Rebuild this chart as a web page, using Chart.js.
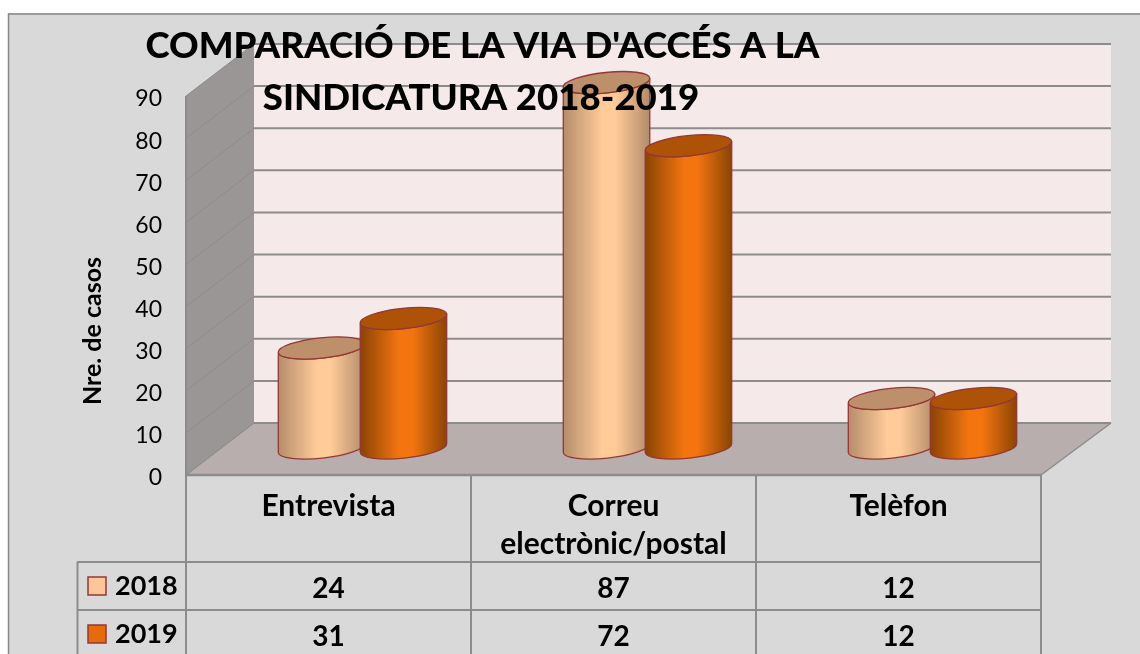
<!DOCTYPE html>
<html><head><meta charset="utf-8">
<style>html,body{margin:0;padding:0;background:#fff}#w{position:relative;width:1140px;height:654px}</style>
<script src="https://cdn.jsdelivr.net/npm/chart.js@4/dist/chart.umd.js"></script>
</head><body><div id="w"><canvas id="c" width="1140" height="654"></canvas></div>
<script>
const categories = ["Entrevista", ["Correu", "electrònic/postal"], "Telèfon"];
const seriesNames = ["2018", "2019"];
const values2018 = [24, 87, 12];
const values2019 = [31, 72, 12];
const titleLines = ["COMPARACIÓ DE LA VIA D'ACCÉS A LA", "SINDICATURA 2018-2019"];
const yAxisTitle = "Nre. de casos";
const FONT = "Lato, Carlito, sans-serif";
const DX = 34, DY = -26, WX = 68, WY = -52;
const LINE = "#8c8c8c", EDGE = "#953735";

const styles = [
  {top:"#bd8f6b", stops:["#b58d6c","#ffcb98","#ffcb98","#b38b6b"], key:"#fcc699"},
  {top:"#ad5207", stops:["#8a4304","#f47510","#f47510","#8a4505"], key:"#e46c0a"}
];

class CylinderElement extends Chart.BarElement {
  draw(ctx) {
    const {x, y, base, width} = this.getProps(["x","y","base","width"]);
    const st = styles[this.$ds];
    const rx = width / 2 + 2.5, ry = 10.2, rot = -6 * Math.PI / 180;
    const ex = rx * Math.cos(rot), ey = rx * Math.sin(rot);
    const g = ctx.createLinearGradient(x - ex, 0, x + ex, 0);
    [0, .45, .6, 1].forEach((p, i) => g.addColorStop(p, st.stops[i]));
    ctx.save();
    ctx.lineWidth = 1.3; ctx.strokeStyle = EDGE; ctx.fillStyle = g;
    ctx.beginPath();
    ctx.moveTo(x - ex, y - ey);
    ctx.lineTo(x - ex, base - 1 - ey);
    ctx.ellipse(x, base - 1, rx, ry, rot, Math.PI, 0, true);
    ctx.lineTo(x + ex, y + ey);
    ctx.ellipse(x, y, rx, ry, rot, 0, Math.PI, false);
    ctx.closePath(); ctx.fill(); ctx.stroke();
    ctx.beginPath();
    ctx.ellipse(x, y, rx, ry, rot, 0, Math.PI * 2);
    ctx.fillStyle = st.top; ctx.fill(); ctx.stroke();
    ctx.restore();
  }
}
CylinderElement.id = "cylinderEl";
class CylinderController extends Chart.BarController {
  updateElements(rects, start, count, mode) {
    super.updateElements(rects, start, count, mode);
    for (let i = start; i < start + count; i++) rects[i].$ds = this.index;
  }
}
CylinderController.id = "cylinder";
CylinderController.defaults = Object.assign({}, Chart.BarController.defaults, {dataElementType: "cylinderEl"});
CylinderController.overrides = Chart.BarController.overrides;
Chart.register(CylinderElement, CylinderController);

function line(ctx, x1, y1, x2, y2, w) {
  ctx.lineWidth = w; ctx.beginPath(); ctx.moveTo(x1, y1); ctx.lineTo(x2, y2); ctx.stroke();
}
function poly(ctx, pts, fill) {
  ctx.fillStyle = fill; ctx.beginPath();
  pts.forEach((p, i) => i ? ctx.lineTo(p[0], p[1]) : ctx.moveTo(p[0], p[1]));
  ctx.closePath(); ctx.fill();
}

const scene = {
  id: "scene",
  beforeDraw(chart) {
    const ctx = chart.ctx, {left:L, right:R, top:T, bottom:B} = chart.chartArea, sy = chart.scales.y;
    ctx.save();
    ctx.fillStyle = "#fff"; ctx.fillRect(0, 0, 1140, 654);
    ctx.fillStyle = "#d9d9d9"; ctx.fillRect(8, 13, 1132, 641);
    ctx.strokeStyle = "#868686"; ctx.lineWidth = 1.5;
    ctx.beginPath(); ctx.moveTo(8.5, 654); ctx.lineTo(8.5, 14); ctx.lineTo(1140, 14); ctx.stroke();
    poly(ctx, [[L+WX,T+WY],[R+WX+2,T+WY],[R+WX+2,B+WY],[L+WX,B+WY]], "#f5e9e9");
    poly(ctx, [[L,T],[L+WX,T+WY],[L+WX,B+WY],[L,B]], "#9a9696");
    poly(ctx, [[L,B],[L+WX,B+WY],[R+WX+2,B+WY],[R,B]], "#b8aeae");
    ctx.strokeStyle = LINE;
    sy.ticks.forEach(t => {
      const y = sy.getPixelForValue(t.value);
      line(ctx, L, y, L+WX, y+WY, 1);
      line(ctx, L+WX, y+WY, R+WX+2, y+WY, 2);
    });
    line(ctx, L, T, L, B, 2);
    line(ctx, R, B, R+WX+2, B+WY, 1.5);
    line(ctx, L, B, L+WX, B+WY, 1);
    // data table grid
    line(ctx, L-1, B, R+1, B, 2.5);
    const rows = [562, 610, 658];
    rows.forEach(y => line(ctx, 77, y, R+1, y, 2));
    line(ctx, 77.5, rows[0], 77.5, 654, 2);
    const n = categories.length, step = (R - L) / n;
    for (let i = 0; i <= n; i++) line(ctx, L + i * step, B, L + i * step, 654, 2);
    ctx.restore();
  },
  beforeDatasetDraw() { return false; },
  beforeDatasetsDraw(chart) {
    const ctx = chart.ctx;
    [0, 1].forEach(i => {
      ctx.save(); ctx.translate(DX, DY);
      chart.getDatasetMeta(i).controller.draw();
      ctx.restore();
    });
  },
  afterDatasetsDraw(chart) {
    const ctx = chart.ctx, sx = chart.scales.x;
    ctx.save();
    ctx.fillStyle = "#000"; ctx.textBaseline = "middle";
    // title over the cylinders
    ctx.textAlign = "center"; ctx.font = "900 36.6px " + FONT;
    ctx.fillText(titleLines[0], 482.5, 46.5);
    ctx.fillText(titleLines[1], 481, 98.5);
    // y title
    ctx.save(); ctx.translate(93, 331); ctx.rotate(-Math.PI / 2);
    ctx.font = "bold 25px " + FONT; ctx.fillText(yAxisTitle, 0, 0); ctx.restore();
    // table values
    [values2018, values2019].forEach((vals, r) => {
      const y = 589 + r * 48;
      ctx.font = "bold 28px " + FONT;
      vals.forEach((v, i) => ctx.fillText(String(v), sx.getPixelForValue(i), y));
      ctx.textAlign = "left";
      ctx.font = "bold 27px " + FONT;
      ctx.fillText(seriesNames[r], 115, y - 3);
      ctx.textAlign = "center";
      ctx.fillStyle = styles[r].key; ctx.strokeStyle = EDGE; ctx.lineWidth = 1.5;
      ctx.fillRect(88, y - 12, 18, 18); ctx.strokeRect(88, y - 12, 18, 18);
      ctx.fillStyle = "#000";
    });
    ctx.restore();
  }
};

new Chart(document.getElementById("c"), {
  type: "cylinder",
  data: {
    labels: categories,
    datasets: [
      {label: seriesNames[0], data: values2018},
      {label: seriesNames[1], data: values2019}
    ]
  },
  plugins: [scene],
  options: {
    responsive: false, animation: false, events: [],
    categoryPercentage: 0.575, barPercentage: 1,
    layout: {padding: {top: 96, right: 99, left: 0, bottom: 0}},
    plugins: {legend: {display: false}, title: {display: false}, tooltip: {enabled: false}},
    scales: {
      x: {
        type: "category", offset: true,
        grid: {display: false}, border: {display: false},
        afterFit(s) { s.height = 179; },
        ticks: {color: "#000", maxRotation: 0, autoSkip: false, padding: 4,
          font: {family: FONT, weight: "bold", size: 30, lineHeight: 1.27}}
      },
      y: {
        type: "linear", min: 0, max: 90,
        grid: {display: false}, border: {display: false},
        afterFit(s) { s.width = 186; },
        ticks: {stepSize: 10, color: "#000", padding: 16, labelOffset: 3,
          font: {family: FONT, size: 23}}
      }
    }
  }
});
</script></body></html>
